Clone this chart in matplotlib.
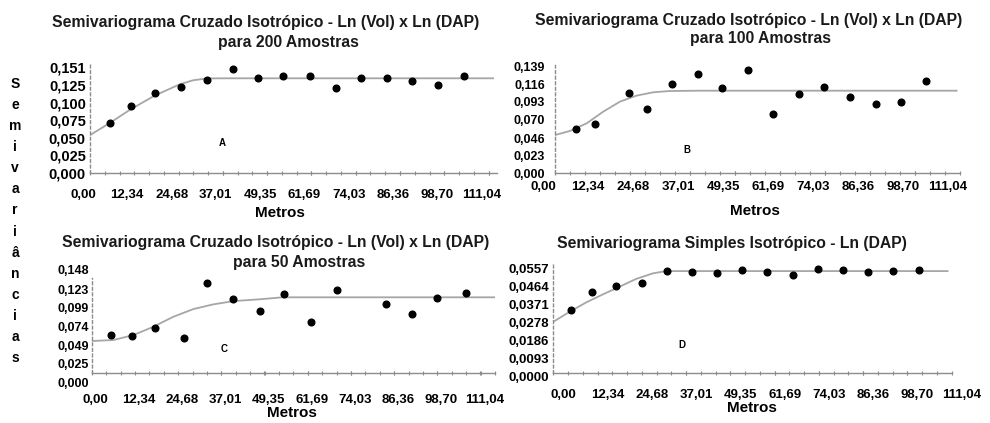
import matplotlib
matplotlib.use('Agg')
import matplotlib.pyplot as plt
from matplotlib.ticker import MultipleLocator
from matplotlib.transforms import ScaledTranslation

plt.rcParams['font.family'] = ['Liberation Sans', 'DejaVu Sans']

W, H = 990, 423

#eixo x comum (metros)
x_ticks = [0, 12.34, 24.68, 37.01, 49.35, 61.69, 74.03, 86.36, 98.70, 111.04]
x_labels = ['0,00', '12,34', '24,68', '37,01', '49,35', '61,69', '74,03', '86,36', '98,70', '111,04']

#A - 200 amostras
a_lag = [5.6, 11.4, 18.1, 25.3, 32.6, 39.8, 46.8, 53.8, 61.3, 68.5, 75.5, 82.7, 89.8, 96.9, 104.2]
a_gamma = [0.0717, 0.0954, 0.1144, 0.1229, 0.1325, 0.1481, 0.1349, 0.1386, 0.1382, 0.1215,
           0.1349, 0.1353, 0.1311, 0.1249, 0.1377]
a_model_x = [0, 5.6, 11.1, 18.1, 25.1, 28.8, 32.5, 36.0, 112.3]
a_model_y = [0.054, 0.0715, 0.090, 0.1105, 0.1265, 0.1322, 0.1346, 0.1349, 0.1349]
a_yticks = [0, 0.025, 0.050, 0.075, 0.100, 0.125, 0.151]
a_ylabels = ['0,000', '0,025', '0,050', '0,075', '0,100', '0,125', '0,151']

#B - 100 amostras
b_lag = [5.7, 11.1, 20.3, 25.1, 32.0, 39.1, 45.9, 52.8, 59.9, 66.9, 73.8, 80.9, 88.0, 94.8, 101.8]
b_gamma = [0.0582, 0.0639, 0.1043, 0.0835, 0.1164, 0.1291, 0.1108, 0.1343, 0.0769, 0.1034,
           0.1129, 0.0995, 0.0904, 0.0934, 0.1200]
b_model_x = [0, 4.1, 8.7, 13.2, 17.8, 22.3, 26.9, 31.4, 39.6, 110.1]
b_model_y = [0.0499, 0.0552, 0.0652, 0.0803, 0.0934, 0.1012, 0.1056, 0.1073, 0.1077, 0.1077]
b_yticks = [0, 0.023, 0.046, 0.070, 0.093, 0.116, 0.139]
b_ylabels = ['0,000', '0,023', '0,046', '0,070', '0,093', '0,116', '0,139']

#C - 50 amostras
c_lag = [5.5, 11.4, 18.0, 26.5, 33.0, 40.5, 48.0, 55.0, 62.6, 70.2, 84.1, 91.6, 98.7, 106.9]
c_gamma = [0.0499, 0.0490, 0.0591, 0.0460, 0.1190, 0.0972, 0.0818, 0.1045, 0.0674, 0.1094,
           0.0910, 0.0775, 0.0993, 0.1054]
c_model_x = [0, 6.2, 11.9, 17.6, 23.3, 29.0, 34.7, 40.5, 48.0, 54.6, 115.0]
c_model_y = [0.0424, 0.0437, 0.0502, 0.0611, 0.0742, 0.0843, 0.0905, 0.0948, 0.0972, 0.0998, 0.0998]
c_yticks = [0, 0.025, 0.049, 0.074, 0.099, 0.123, 0.148]
c_ylabels = ['0,000', '0,025', '0,049', '0,074', '0,099', '0,123', '0,148']

#D - simples Ln(DAP)
d_lag = [4.8, 10.8, 17.6, 24.6, 31.7, 38.6, 45.7, 52.6, 59.7, 66.8, 73.7, 80.8, 87.7, 94.8, 101.9]
d_gamma = [0.0326, 0.0418, 0.0449, 0.0466, 0.0525, 0.0521, 0.0514, 0.0530, 0.0523, 0.0504,
           0.0535, 0.0533, 0.0521, 0.0525, 0.0533]
d_model_x = [0, 4.6, 9.2, 13.8, 18.4, 23.0, 27.7, 31.4, 109.9]
d_model_y = [0.0265, 0.0317, 0.0365, 0.0406, 0.0445, 0.0485, 0.0514, 0.0526, 0.0526]
d_yticks = [0, 0.0093, 0.0186, 0.0278, 0.0371, 0.0464, 0.0557]
d_ylabels = ['0,0000', '0,0093', '0,0186', '0,0278', '0,0371', '0,0464', '0,0557']


def px_shift(dx, dy):
    return ScaledTranslation(dx / 100, -dy / 100, fig.dpi_scale_trans)


def panel(box, xmax, ymax, lag, gamma, mx, my, yticks, ylabels, letter, letter_xy,
          ysize, ypad, xpad, xshift, yshift=0, ytop=None):
    left, top, right, bottom = box
    ax = fig.add_axes([left / W, 1 - bottom / H, (right - left) / W, (bottom - top) / H])
    ax.plot(mx, my, color='#a6a6a6', lw=1.3, zorder=1)
    ax.plot(lag, gamma, 'o', color='black', ms=4.8, zorder=2)
    ax.set_xlim(0, xmax)
    ax.set_ylim(0, ymax)
    ax.set_xticks(x_ticks)
    ax.set_xticklabels(x_labels, fontsize=9.5, fontweight='bold')
    ax.set_yticks(yticks)
    ax.set_yticklabels(ylabels, fontsize=ysize, fontweight='bold')
    ax.xaxis.set_minor_locator(MultipleLocator(12.34 / 3))
    ax.tick_params(axis='x', which='both', length=2.5, width=0.8, color='#8c8c8c',
                   direction='inout', pad=xpad)
    ax.tick_params(axis='y', length=0, pad=ypad)
    for s in ['top', 'right']:
        ax.spines[s].set_visible(False)
    ax.spines['bottom'].set_color('#8c8c8c')
    ax.spines['bottom'].set_linewidth(1.0)
    ax.spines['left'].set_color('#8c8c8c')
    ax.spines['left'].set_linestyle((0, (2, 2)))
    ax.spines['left'].set_linewidth(1.0)
    if ytop is not None:
        ax.spines['left'].set_bounds(0, ytop)
    ax.text(letter_xy[0], letter_xy[1], letter, fontsize=7, fontweight='bold',
            ha='center', va='center')
    for lab in ax.get_xticklabels():
        lab.set_transform(lab.get_transform() + px_shift(xshift, 0))
    if yshift:
        for lab in ax.get_yticklabels():
            lab.set_transform(lab.get_transform() + px_shift(0, yshift))
    return ax


fig = plt.figure(figsize=(W / 100, H / 100), dpi=100)

panel((90, 63, 497, 173), 113.4, 0.1567, a_lag, a_gamma, a_model_x, a_model_y,
      a_yticks, a_ylabels, 'A', (36.8, 0.0428), 10.5, 3, 10, -7)
panel((555, 65, 960, 173.3), 110.7, 0.1412, b_lag, b_gamma, b_model_x, b_model_y,
      b_yticks, b_ylabels, 'B', (36.1, 0.0304), 9, 7, 4, -12)
panel((91.7, 260.6, 495, 373.3), 115.2, 0.148, c_lag, c_gamma, c_model_x, c_model_y,
      c_yticks, c_ylabels, 'C', (37.8, 0.0319), 9, 2, 13.5, 4, yshift=9.4, ytop=0.125)
panel((553.3, 263.3, 951.7, 373.3), 110.4, 0.0566, d_lag, d_gamma, d_model_x, d_model_y,
      d_yticks, d_ylabels, 'D', (35.8, 0.01456), 9.5, 3, 10, 10, yshift=3)

#titulos
t1 = 'Semivariograma Cruzado Isotrópico - Ln (Vol) x Ln (DAP)'
title_kw = dict(fontsize=11.3, fontweight='bold', ha='center', va='center', color='#1a1a1a')
fig.text(265.7 / W, 1 - 22 / H, t1, **title_kw)
fig.text(288.3 / W, 1 - 42 / H, 'para 200 Amostras', **title_kw)
fig.text(748.5 / W, 1 - 21 / H, t1, **title_kw)
fig.text(761 / W, 1 - 39 / H, 'para 100 Amostras', **title_kw)
fig.text(276 / W, 1 - 242 / H, t1, **title_kw)
fig.text(299 / W, 1 - 263 / H, 'para 50 Amostras', **title_kw)
fig.text(732 / W, 1 - 243 / H, 'Semivariograma Simples Isotrópico - Ln (DAP)', **title_kw)

#rotulos eixo x
metros_kw = dict(fontsize=11, fontweight='bold', ha='center', va='center')
fig.text(280 / W, 1 - 213 / H, 'Metros', **metros_kw)
fig.text(755 / W, 1 - 211 / H, 'Metros', **metros_kw)
fig.text(292 / W, 1 - 413 / H, 'Metros', **metros_kw)
fig.text(752 / W, 1 - 408 / H, 'Metros', **metros_kw)

#rotulo eixo y (vertical, letra a letra)
fig.text(15 / W, 1 - 221 / H, '\n'.join('Semivariâncias'), fontsize=10, fontweight='bold',
         ha='center', va='center', linespacing=1.64)

fig.savefig('out.png', dpi=100)
